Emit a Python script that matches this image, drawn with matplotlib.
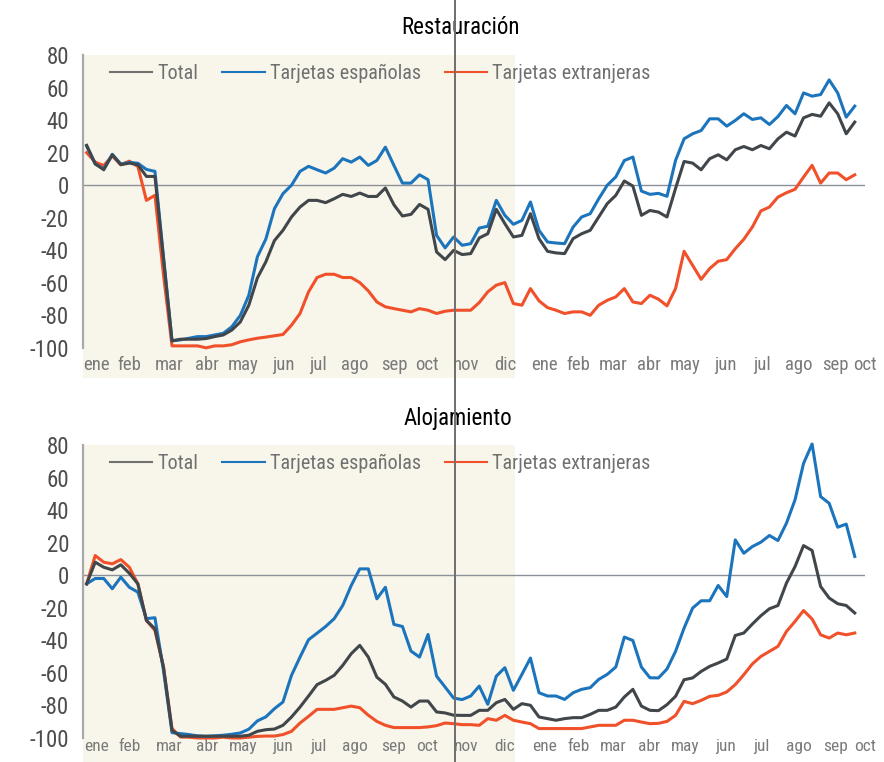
import matplotlib
matplotlib.use("Agg")
import matplotlib.pyplot as plt
from matplotlib.lines import Line2D
from matplotlib.patches import Rectangle
import matplotlib.transforms as mtransforms

plt.rcParams['font.family'] = ['Roboto Condensed', 'Roboto', 'DejaVu Sans']

# semanas desde la primera de enero 2020 hasta finales de septiembre 2021
MONTH_LABELS = ["ene", "feb", "mar", "abr", "may", "jun", "jul", "ago", "sep", "oct", "nov", "dic",
                "ene", "feb", "mar", "abr", "may", "jun", "jul", "ago", "sep", "oct"]
MONTH_POS = [1.2, 5.0, 9.7, 14.1, 18.3, 23.0, 27.1, 31.4, 36.0, 39.9, 44.5, 49.0,
             53.6, 57.6, 61.7, 65.9, 70.1, 74.9, 79.1, 83.4, 87.7, 91.2]
Y_TICKS = [80, 60, 40, 20, 0, -20, -40, -60, -80, -100]

SHADE_END = 50.2      # fin del fondo beige (semana)
MARK_WEEK = 43.2      # linea vertical

rest_total = [24.5, 13.2, 9.5, 18.7, 12.6, 13.6, 12.6, 5.4, 5.4, -45,
              -95.6, -94.6, -94.6, -94.6, -94.2, -93, -92, -89, -84, -73.7,
              -57, -47, -34, -27.7, -19.5, -13.4, -9.3, -9.3, -10.7, -8.3,
              -5.6, -6.9, -4.8, -6.9, -6.9, -1.7, -12, -18.9, -17.9, -11.8,
              -14.8, -41, -45.7, -40, -42.6, -42, -32.4, -29.8, -14.8, -23.6,
              -31.8, -30.8, -17.5, -32.8, -40.6, -41.6, -42, -32.8, -29.8, -27.7,
              -19.5, -11.3, -6.2, 2.6, -0.5, -18.5, -15.5, -16.5, -19.5, -2,
              14.6, 13.6, 9.5, 16.3, 18.7, 15.6, 21.8, 23.8, 21.8, 24.4,
              22.4, 28.5, 32.6, 30.2, 41.4, 43.5, 42.4, 50.6, 43.9, 31.6, 38.8]
rest_esp = [24, 13, 10, 19, 13, 14, 13.5, 9.7, 8.5, -44,
            -95.6, -95, -94, -93, -93, -92, -91, -87, -80, -67.6,
            -44, -33, -14.4, -5.2, 0, 8.5, 11.6, 9.5, 7.5, 10.5,
            16.3, 14.2, 17.3, 12.2, 15.2, 23.4, 12.2, 1.3, 1.3, 6.4,
            3.4, -30.8, -38.5, -31.8, -36.9, -35.9, -26.3, -25.2, -9.3, -18.5,
            -24, -21.6, -10.3, -27.7, -34.9, -35.5, -35.9, -25.7, -19.5, -17.5,
            -8.3, 0, 5.1, 15.2, 17.3, -3.6, -5.6, -5, -6.8, 15.2,
            28.5, 31.6, 33.6, 40.8, 40.8, 36.3, 39.8, 43.9, 40.4, 41.4,
            37.3, 42.2, 49, 43.9, 56.7, 54.7, 55.7, 64.7, 56.7, 41.8, 48.6]
rest_ext = [20, 14.2, 12.1, 18, 12.6, 14.8, 11.5, -9.3, -6.2, -55,
            -98.7, -98.7, -98.7, -98.7, -99.9, -98.7, -98.7, -98, -96.2, -95,
            -94, -93.3, -92.5, -91.7, -86, -78.8, -65.5, -56.7, -54.7, -54.7,
            -56.7, -56.7, -59.8, -64.9, -71.7, -74.7, -75.8, -76.8, -77.8, -75.8,
            -76.8, -78.8, -77.4, -76.8, -76.8, -76.8, -72.1, -65.5, -61.4, -59.8,
            -72.7, -73.7, -63.5, -71, -75.2, -76.8, -78.8, -77.8, -77.8, -79.9,
            -73.7, -70.7, -68.6, -63.5, -71.7, -72.7, -67.6, -70, -74.1, -63.5,
            -40.6, -49.2, -57.8, -51.2, -46.7, -45.7, -39, -33.2, -25.7, -15.8,
            -13.4, -7.3, -4.6, -2.5, 5, 12.2, 1.3, 7.5, 7.5, 3.4, 6.4]

aloj_total = [-5.3, 8, 4.9, 3.3, 6.4, 1.2, -5.3, -27.8, -32.9, -56.4,
              -95.3, -98.9, -98.9, -98.9, -98.9, -98.9, -98.9, -98.9, -98.9, -98.3,
              -95.9, -94.9, -94.5, -92.2, -87.1, -81, -74.2, -67.2, -64.6, -61.5,
              -55.4, -48.2, -43.1, -50.3, -62.6, -67, -74.8, -77.3, -81, -77.3,
              -77.3, -84, -84.6, -86, -86.1, -86.1, -83, -83, -78.3, -76.3,
              -82.4, -78.9, -79.9, -87.1, -88.1, -89.1, -88.1, -87.5, -87.5, -85.5,
              -83, -83, -81, -74.8, -70.1, -80.4, -83, -83.2, -79.5, -74.4,
              -64.2, -63.1, -59.1, -56, -53.9, -51.5, -37, -35.5, -30, -24.9,
              -20.6, -18.6, -4.8, 5.3, 18.2, 15.2, -6.9, -14, -17.5, -18.6, -23.2]
aloj_esp = [-5.3, -2, -2, -8.3, -1.2, -7.4, -10.4, -26.7, -26.1, -58.5,
            -96.7, -97.3, -97.9, -98.7, -99, -98.7, -98.3, -97.7, -96.9, -94.6,
            -89.5, -87, -82, -77.9, -61.5, -50.3, -39.6, -35.6, -31.5, -26.7,
            -18.6, -6.3, 3.9, 3.9, -14.5, -7.4, -30.2, -31.5, -46.6, -50.3,
            -36.4, -62, -68.7, -75.5, -76.4, -74.2, -68.1, -79.3, -62, -56.8,
            -70.7, -60.9, -50.9, -72.2, -74.2, -74.2, -76.3, -72.2, -70.1, -69.1,
            -64, -60.9, -56.4, -38, -40.1, -56.4, -63, -63.1, -57.6, -46.8,
            -32.5, -20.2, -15.7, -15.7, -6.3, -13.1, 21.7, 13.5, 17.6, 20.3,
            24.4, 21.3, 32, 46.3, 68.7, 80.6, 48.3, 44.2, 29.5, 31.4, 11.5]
aloj_ext = [-5.3, 12.1, 8, 7, 9.6, 4.9, -5.3, -27.8, -33.9, -56.4,
            -94.2, -99.4, -99.5, -100, -100, -100, -99.5, -100, -100, -99.5,
            -99, -98.8, -98.8, -97.9, -95.9, -90.8, -86.7, -82.4, -82.4, -82.4,
            -81.4, -80.4, -81.4, -86, -89.8, -92.2, -93.6, -93.6, -93.6, -93.6,
            -93.2, -92.4, -90.8, -91.2, -91.8, -91.8, -92.2, -88.1, -89.1, -86.1,
            -89.1, -90.2, -91.2, -94.2, -94.2, -94.2, -94.2, -94.2, -94.2, -93.2,
            -92.2, -92.2, -92.2, -89.1, -89.1, -90.2, -91.2, -91, -89.8, -86.1,
            -77.5, -78.9, -76.9, -74.4, -73.8, -71.7, -67.2, -61.1, -54.5, -49.9,
            -46.8, -43.7, -34.5, -28.4, -21.7, -26.9, -36.6, -38.6, -35.5, -36.6, -35.5]

C_TOTAL = "#41464b"
C_ESP = "#1c75bc"
C_EXT = "#f0502a"
BEIGE = "#f8f6ea"


def draw_panel(ax, total, esp, ext, shade_bottom, month_size=13.5, month_pad=6):
    weeks = list(range(len(total)))
    ax.set_facecolor("none")
    ax.set_xlim(-0.43, 90.38)
    ax.set_ylim(-100, 80)

    trans = mtransforms.blended_transform_factory(ax.transData, ax.transAxes)
    ax.add_patch(Rectangle((-0.43, shade_bottom), SHADE_END + 0.43, 1 - shade_bottom,
                           transform=trans, facecolor=BEIGE, edgecolor="none",
                           clip_on=False, zorder=0))

    ax.axhline(0, color="#8c9099", linewidth=1.0, zorder=1)

    ax.plot(weeks, total, color=C_TOTAL, linewidth=2.2, label="Total", clip_on=False, zorder=4)
    ax.plot(weeks, esp, color=C_ESP, linewidth=2.2, label="Tarjetas españolas", clip_on=False, zorder=3)
    ax.plot(weeks, ext, color=C_EXT, linewidth=2.2, label="Tarjetas extranjeras", clip_on=False, zorder=2)

    for side in ["top", "right", "bottom"]:
        ax.spines[side].set_visible(False)
    ax.spines["left"].set_color("#a9a9a9")
    ax.spines["left"].set_linewidth(1.6)

    ax.set_yticks(Y_TICKS)
    ax.set_yticklabels([str(v) for v in Y_TICKS], fontsize=16.5, color="#4d4d4d")
    ax.set_xticks(MONTH_POS)
    ax.set_xticklabels(MONTH_LABELS, fontsize=month_size, color="#7a7a7a")
    ax.tick_params(axis="both", length=0)
    ax.tick_params(axis="y", pad=10)
    ax.tick_params(axis="x", pad=month_pad)

    leg = ax.legend(loc="center left", bbox_to_anchor=(0.0345, 0.9386), ncol=3,
                    frameon=False, fontsize=14.5, labelcolor="#707070",
                    handlelength=2.1, handletextpad=0.25, columnspacing=1.2,
                    borderaxespad=0, borderpad=0)
    for line in leg.get_lines():
        line.set_linewidth(1.5)
    leg.get_lines()[0].set_color("#707070")


def main():
    fig = plt.figure(figsize=(8.84, 7.62), dpi=100)
    ax1 = fig.add_axes([83 / 884, 1 - 348 / 762, 782 / 884, 293 / 762])
    ax2 = fig.add_axes([83 / 884, 1 - 738 / 762, 782 / 884, 293 / 762])

    draw_panel(ax1, rest_total, rest_esp, rest_ext, -0.102)
    draw_panel(ax2, aloj_total, aloj_esp, aloj_ext, -0.082, month_size=12.5, month_pad=1)

    fig.text(460 / 884, 1 - 28 / 762, "Restauración", ha="center", va="center",
             fontsize=16.5, color="black")
    fig.text(457.5 / 884, 1 - 419 / 762, "Alojamiento", ha="center", va="center",
             fontsize=16.5, color="black")

    # linea vertical que cruza los dos paneles
    x_px = ax1.transData.transform((MARK_WEEK, 0))[0]
    x_fig = x_px / fig.bbox.width
    fig.add_artist(Line2D([x_fig, x_fig], [0, 1], color="#6e6e6e", linewidth=1.4,
                          transform=fig.transFigure, zorder=10))

    fig.savefig("out.png", dpi=100)
    plt.close(fig)


if __name__ == "__main__":
    main()
